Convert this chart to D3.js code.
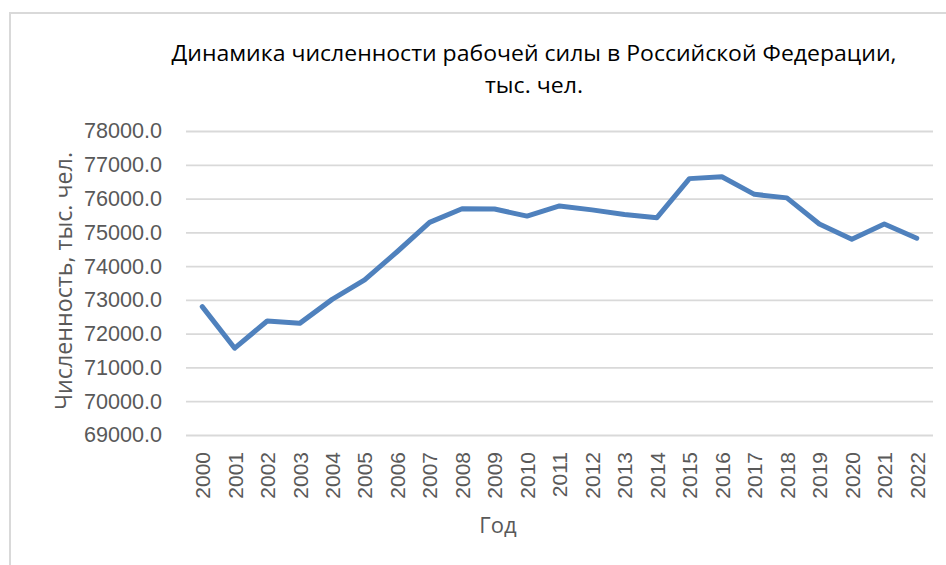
<!DOCTYPE html>
<html>
<head>
<meta charset="utf-8">
<script src="https://cdn.jsdelivr.net/npm/d3@7"></script>
<style>
	body { margin: 0; background: #fff; }
	svg { display: block; }
	.tick text { fill: #595959; font-family: "Liberation Sans", Arial, sans-serif; font-size: 21px; }
</style>
</head>
<body>
<svg id="chart" width="946" height="565"></svg>
<script>
// Численность рабочей силы, тыс. чел.
var years = ["2000","2001","2002","2003","2004","2005","2006","2007","2008","2009","2010",
	"2011","2012","2013","2014","2015","2016","2017","2018","2019","2020","2021","2022"];
var values = [72800, 71570, 72375, 72305, 73015, 73590, 74425, 75295, 75700, 75690, 75480,
	75780, 75665, 75530, 75435, 76590, 76645, 76125, 76020, 75245, 74795, 75245, 74825];
var yTicks = [69000, 70000, 71000, 72000, 73000, 74000, 75000, 76000, 77000, 78000];

var titleLines = ["Динамика численности рабочей силы в Российской Федерации,", "тыс. чел."];
var xTitle = "Год";
var yTitle = "Численность, тыс. чел.";

var svg = d3.select("#chart");

// frame of the chart box
svg.append("path")
	.attr("d", "M10,565 V13 H946")
	.attr("fill", "none")
	.attr("stroke", "#d9d9d9")
	.attr("stroke-width", 2);

// plot area (note: "top" is taken by window.top, so plot* names)
var plotL = 186, plotR = 933, plotT = 131, plotB = 435;

var x = d3.scalePoint().domain(years).range([plotL, plotR]).padding(0.5);
var y = d3.scaleLinear().domain([69000, 78000]).range([plotB, plotT]);

// y axis + gridlines
var yAxis = svg.append("g")
	.attr("transform", "translate(" + plotL + ",0)")
	.call(d3.axisLeft(y).tickValues(yTicks).tickFormat(d3.format(".1f"))
		.tickSize(-(plotR - plotL)).tickPadding(24));
yAxis.select(".domain").remove();
yAxis.selectAll(".tick line").attr("stroke", "#d9d9d9").attr("stroke-width", 1.8);
yAxis.selectAll(".tick text").style("font-size", "21.6px");

// x axis (labels only)
var xAxis = svg.append("g")
	.attr("transform", "translate(0," + plotB + ")")
	.call(d3.axisBottom(x).tickSize(0).tickPadding(0));
xAxis.select(".domain").remove();
xAxis.selectAll(".tick text")
	.attr("transform", "translate(0,17) rotate(-90)")
	.attr("x", 0).attr("y", 0)
	.attr("dy", "0.35em")
	.attr("text-anchor", "end");

// the line itself
var line = d3.line()
	.x(function (d, i) { return x(years[i]); })
	.y(function (d) { return y(d); });

svg.append("path")
	.datum(values)
	.attr("d", line)
	.attr("fill", "none")
	.attr("stroke", "#4f81bd")
	.attr("stroke-width", 5)
	.attr("stroke-linejoin", "round")
	.attr("stroke-linecap", "round");

// titles
svg.selectAll("text.title").data(titleLines)
	.enter().append("text")
	.attr("class", "title")
	.attr("x", 534)
	.attr("y", function (d, i) { return 61 + i * 32; })
	.attr("text-anchor", "middle")
	.attr("font-family", "'Open Sans', sans-serif")
	.attr("font-size", 22)
	.attr("fill", "#000")
	.attr("textLength", function (d, i) { return i == 0 ? 725 : 98; })
	.attr("lengthAdjust", "spacingAndGlyphs")
	.text(function (d) { return d; });

svg.append("text")
	.attr("x", 498).attr("y", 533)
	.attr("text-anchor", "middle")
	.attr("font-family", "'Open Sans', sans-serif")
	.attr("font-size", 22)
	.attr("fill", "#595959")
	.text(xTitle);

svg.append("text")
	.attr("transform", "translate(72,281) rotate(-90)")
	.attr("text-anchor", "middle")
	.attr("font-family", "'Open Sans', sans-serif")
	.attr("font-size", 24)
	.attr("fill", "#595959")
	.attr("textLength", 258)
	.attr("lengthAdjust", "spacingAndGlyphs")
	.text(yTitle);
</script>
</body>
</html>
